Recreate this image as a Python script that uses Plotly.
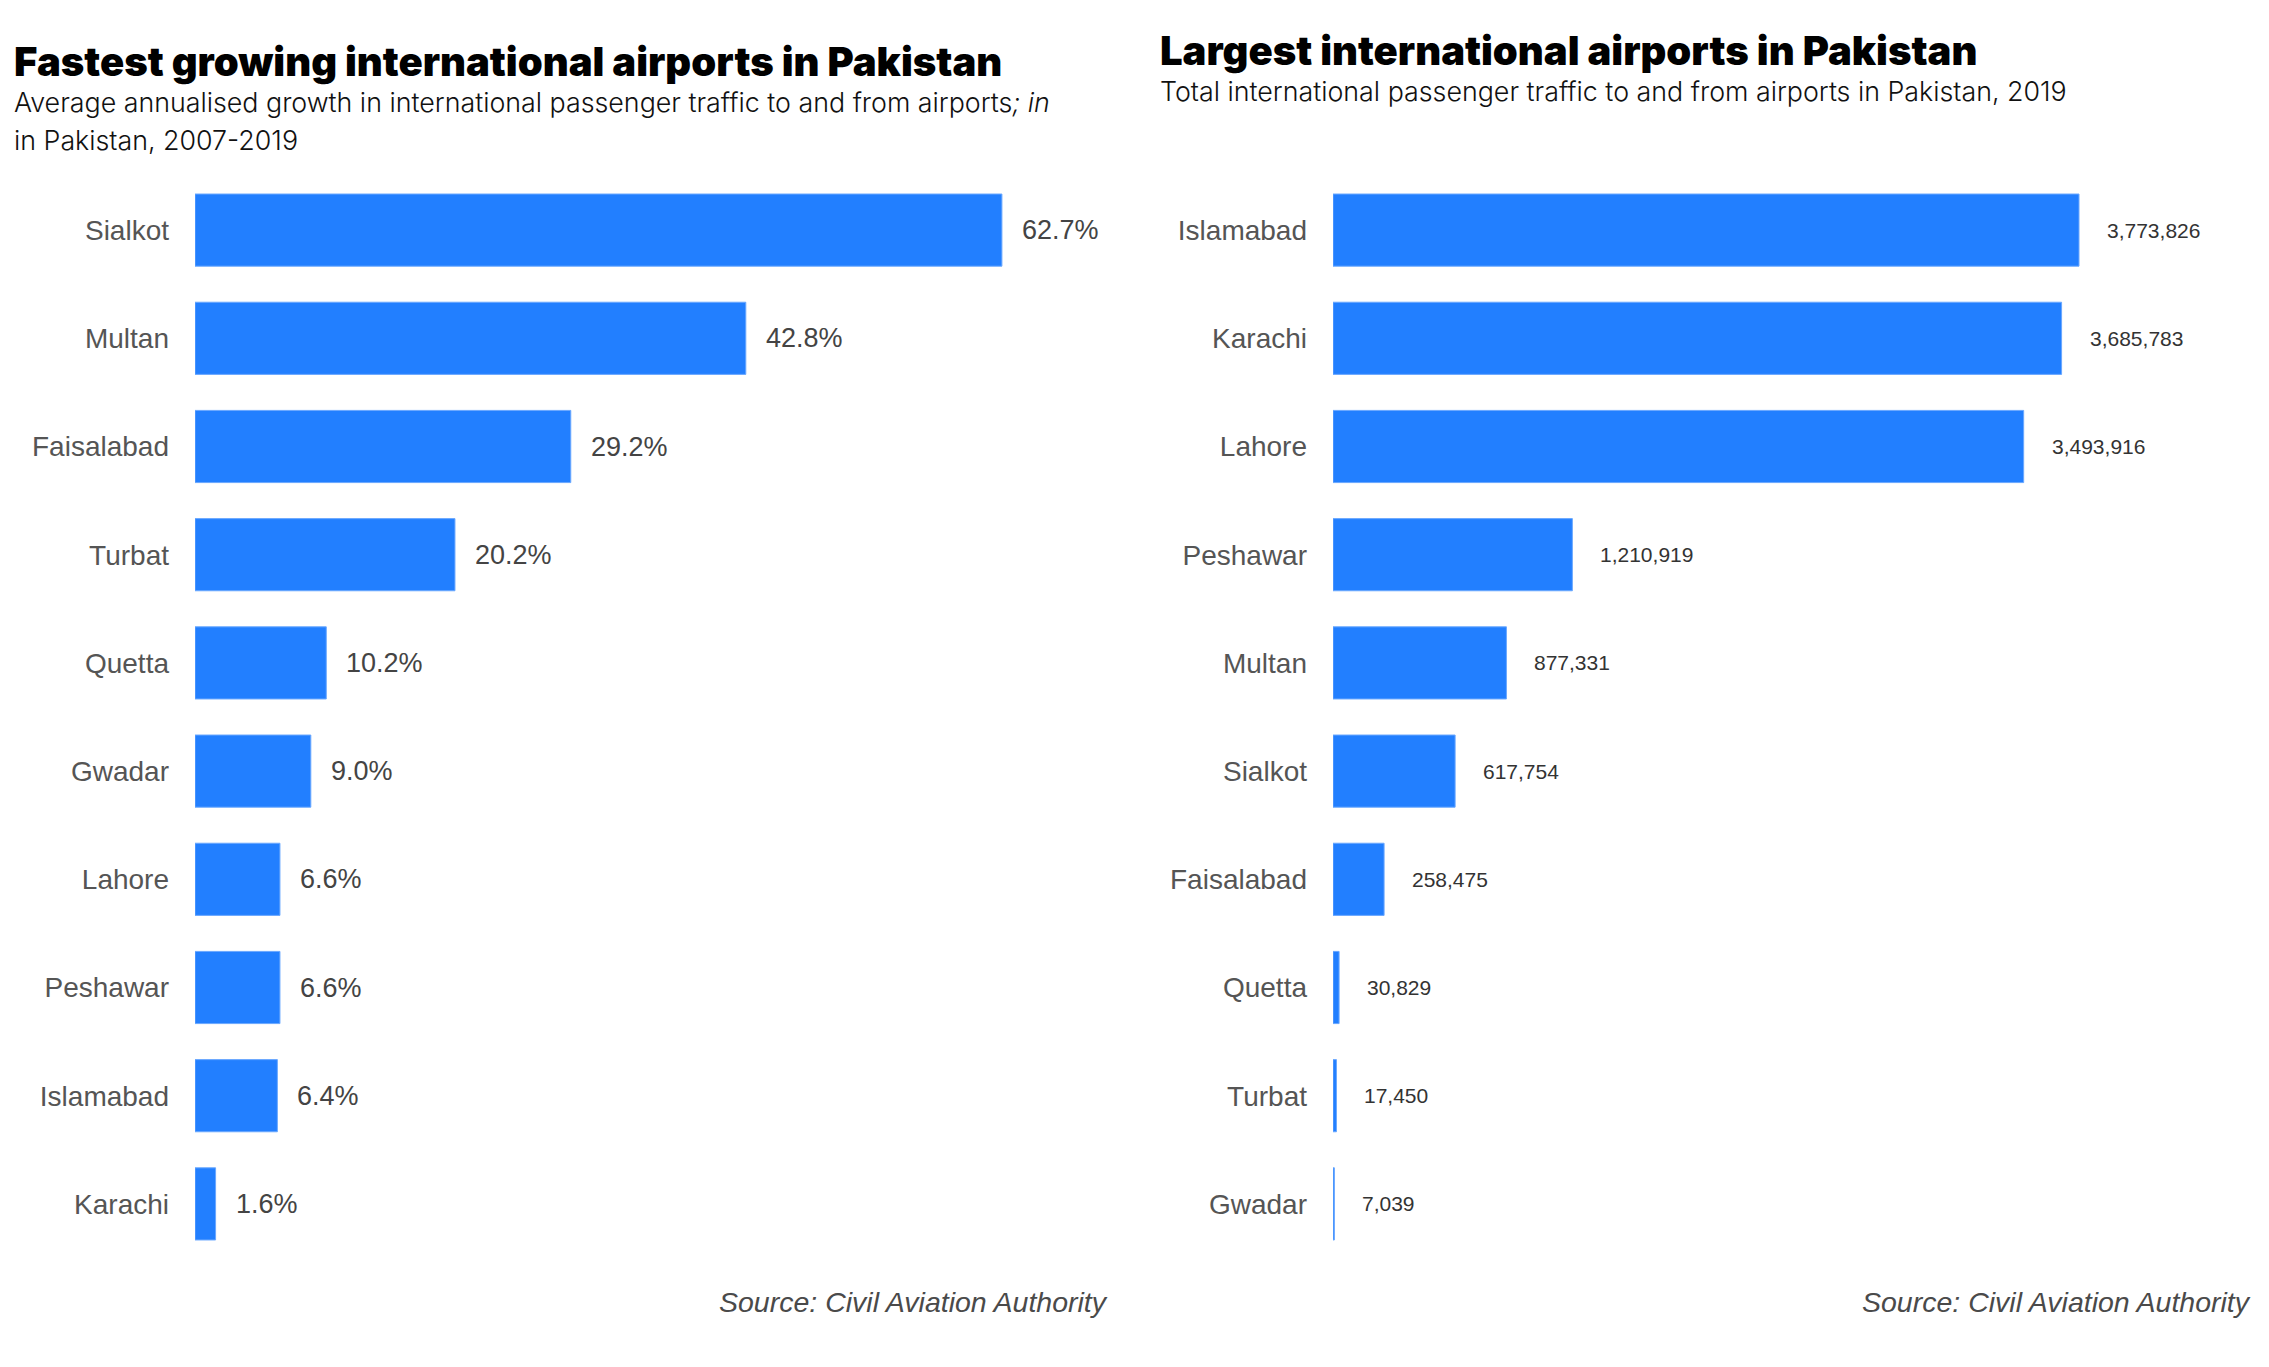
import plotly.graph_objects as go

# Left panel: growth 2007-2019 (top to bottom)
growth_airports = ["Sialkot", "Multan", "Faisalabad", "Turbat", "Quetta",
                   "Gwadar", "Lahore", "Peshawar", "Islamabad", "Karachi"]
growth_pct = [62.7, 42.8, 29.2, 20.2, 10.2, 9.0, 6.6, 6.6, 6.4, 1.6]

# Right panel: total traffic 2019 (top to bottom)
traffic_airports = ["Islamabad", "Karachi", "Lahore", "Peshawar", "Multan",
                    "Sialkot", "Faisalabad", "Quetta", "Turbat", "Gwadar"]
traffic_pax = [3773826, 3685783, 3493916, 1210919, 877331,
               617754, 258475, 30829, 17450, 7039]

W, H = 2269, 1367
OFF = 8  # page body margin
BLUE = '#227fff'
LABEL_FONT = "Liberation Sans, Arial, sans-serif"
HEAD_FONT = "Inter, sans-serif"


def px(x):
    return (x - OFF) / W


def py(y):
    return 1 - (y - OFF) / H


fig = go.Figure()

fig.add_trace(go.Bar(x=growth_pct, y=growth_airports, orientation='h',
                     marker=dict(color=BLUE, line=dict(color='#6aa8ff', width=1)),
                     xaxis='x', yaxis='y', showlegend=False))
fig.add_trace(go.Bar(x=traffic_pax, y=traffic_airports, orientation='h',
                     marker=dict(color=BLUE, line=dict(color='#6aa8ff', width=1)),
                     xaxis='x2', yaxis='y2', showlegend=False))

annotations = []

# value labels
for name, v in zip(growth_airports, growth_pct):
    annotations.append(dict(x=v, y=name, xref='x', yref='y', text=f"{v:.1f}%",
                            showarrow=False, xanchor='left', xshift=18,
                            font=dict(family=LABEL_FONT, size=27, color='#444444')))
for name, v in zip(traffic_airports, traffic_pax):
    annotations.append(dict(x=v, y=name, xref='x2', yref='y2', text=f"{v:,}",
                            showarrow=False, xanchor='left', xshift=26,
                            font=dict(family=LABEL_FONT, size=21, color='#333333')))

# titles and subtitles
title_font = dict(family=HEAD_FONT, size=40, color='#000000', weight=900)
sub_font = dict(family=HEAD_FONT, size=26.8, color='#111111', weight=300)
source_font = dict(family=LABEL_FONT, size=28.5, color='#4a4a4a')

annotations += [
    dict(x=px(12), y=py(62), xref='paper', yref='paper', xanchor='left', yanchor='middle',
         text="Fastest growing international airports in Pakistan", showarrow=False, font=title_font),
    dict(x=px(12), y=py(102), xref='paper', yref='paper', xanchor='left', yanchor='middle',
         text="Average annualised growth in international passenger traffic to and from airports<i>; in</i>",
         showarrow=False, font=sub_font),
    dict(x=px(12), y=py(140), xref='paper', yref='paper', xanchor='left', yanchor='middle',
         text="in Pakistan, 2007-2019", showarrow=False, font=sub_font),
    dict(x=px(1158), y=py(51), xref='paper', yref='paper', xanchor='left', yanchor='middle',
         text="Largest international airports in Pakistan", showarrow=False, font=title_font),
    dict(x=px(1158), y=py(91), xref='paper', yref='paper', xanchor='left', yanchor='middle',
         text="Total international passenger traffic to and from airports in Pakistan, 2019",
         showarrow=False, font=sub_font),
    dict(x=px(1110), y=py(1302), xref='paper', yref='paper', xanchor='right', yanchor='middle',
         text="<i>Source: Civil Aviation Authority</i>", showarrow=False, font=source_font),
    dict(x=px(2253), y=py(1302), xref='paper', yref='paper', xanchor='right', yanchor='middle',
         text="<i>Source: Civil Aviation Authority</i>", showarrow=False, font=source_font),
]

axis_common = dict(showgrid=False, zeroline=False, showline=False, showticklabels=False, ticks='')
yaxis_common = dict(showgrid=False, zeroline=False, showline=False, ticks='',
                    autorange='reversed', ticklabelstandoff=25,
                    tickfont=dict(family=LABEL_FONT, size=28, color='#555555'))

fig.update_layout(
    width=W, height=H,
    margin=dict(l=0, r=0, t=0, b=0),
    paper_bgcolor='white', plot_bgcolor='white',
    bargap=0.333,
    xaxis=dict(domain=[px(195), px(1101)], range=[0, 70.4], **axis_common),
    yaxis=dict(domain=[py(1258), py(176)], anchor='x', **yaxis_common),
    xaxis2=dict(domain=[px(1333), px(2240)], range=[0, 4588300], anchor='y2', **axis_common),
    yaxis2=dict(domain=[py(1258), py(176)], anchor='x2', **yaxis_common),
    annotations=annotations,
)

fig.write_html("out.html")
